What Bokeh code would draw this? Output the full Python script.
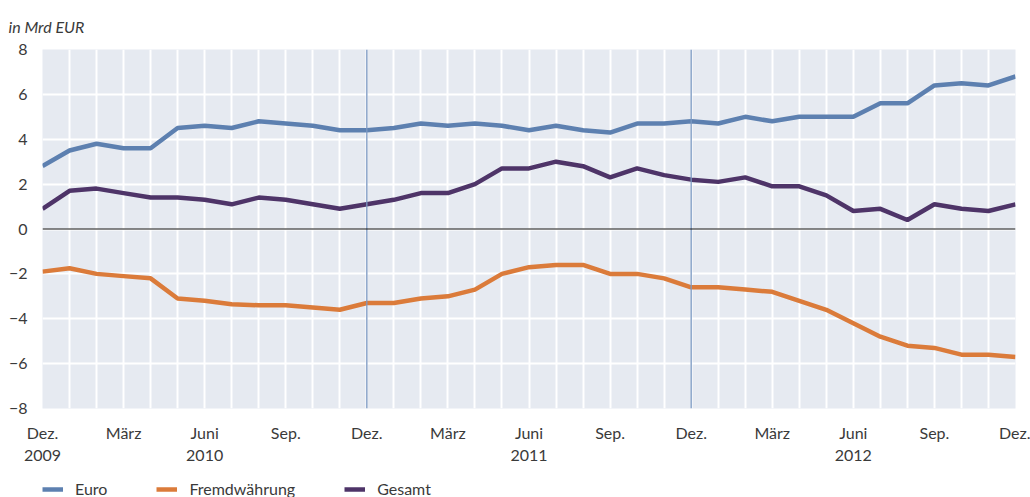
from bokeh.plotting import figure
from bokeh.layouts import column
from bokeh.models import (Range1d, FixedTicker, Span, Legend, LegendItem, Title)
from bokeh.embed import file_html
from bokeh.resources import INLINE

months = list(range(37))  # Dez 2009 .. Dez 2012
euro = [2.8, 3.5, 3.8, 3.6, 3.6, 4.5, 4.6, 4.5, 4.8, 4.7, 4.6, 4.4,
        4.4, 4.5, 4.7, 4.6, 4.7, 4.6, 4.4, 4.6, 4.4, 4.3, 4.7, 4.7,
        4.8, 4.7, 5.0, 4.8, 5.0, 5.0, 5.0, 5.6, 5.6, 6.4, 6.5, 6.4, 6.8]
fremd = [-1.9, -1.75, -2.0, -2.1, -2.2, -3.1, -3.2, -3.35, -3.4, -3.4, -3.5, -3.6,
         -3.3, -3.3, -3.1, -3.0, -2.7, -2.0, -1.7, -1.6, -1.6, -2.0, -2.0, -2.2,
         -2.6, -2.6, -2.7, -2.8, -3.2, -3.6, -4.2, -4.8, -5.2, -5.3, -5.6, -5.6, -5.7]
gesamt = [0.9, 1.7, 1.8, 1.6, 1.4, 1.4, 1.3, 1.1, 1.4, 1.3, 1.1, 0.9,
          1.1, 1.3, 1.6, 1.6, 2.0, 2.7, 2.7, 3.0, 2.8, 2.3, 2.7, 2.4,
          2.2, 2.1, 2.3, 1.9, 1.9, 1.5, 0.8, 0.9, 0.4, 1.1, 0.9, 0.8, 1.1]

x_tick_pos = [0, 3, 6, 9, 12, 15, 18, 21, 24, 27, 30, 33, 36]
x_tick_labels = ["Dez.\n2009", "März", "Juni\n2010", "Sep.", "Dez.", "März", "Juni\n2011",
                 "Sep.", "Dez.", "März", "Juni\n2012", "Sep.", "Dez."]
y_ticks = [-8, -6, -4, -2, 0, 2, 4, 6, 8]
y_tick_labels = ["\u22128", "\u22126", "\u22124", "\u22122", "0", "2", "4", "6", "8"]
year_breaks = [12, 24]
series_names = ["Euro", "Fremdwährung", "Gesamt"]

FONT = "Lato"
TXT = "#3a3a3a"
C_EURO = "#5D80B0"
C_FREMD = "#DB7B3A"
C_GES = "#4E3468"
LW = 4.5

p = figure(width=1030, height=467, output_backend="svg", toolbar_location=None,
           x_range=Range1d(0, 36), y_range=Range1d(-8, 8),
           min_border_left=42, min_border_right=15, min_border_top=47, min_border_bottom=56)
p.outline_line_color = None
p.background_fill_color = "#E6EAF1"
p.border_fill_color = "white"

p.add_layout(Title(text="in Mrd EUR", align="left", offset=-34, standoff=28,
                   text_font=FONT, text_font_style="italic", text_font_size="16px",
                   text_color=TXT), "above")

# grids
p.xgrid.ticker = FixedTicker(ticks=months)
p.ygrid.ticker = FixedTicker(ticks=y_ticks)
for g in (p.xgrid, p.ygrid):
    g.grid_line_color = "white"
    g.grid_line_width = 2

# axes
p.xaxis.ticker = FixedTicker(ticks=x_tick_pos)
p.xaxis.major_label_overrides = {t: l for t, l in zip(x_tick_pos, x_tick_labels)}
p.yaxis.ticker = FixedTicker(ticks=y_ticks)
p.yaxis.major_label_overrides = {t: l for t, l in zip(y_ticks, y_tick_labels)}
for ax in (p.xaxis, p.yaxis):
    ax.axis_line_color = None
    ax.major_tick_line_color = None
    ax.minor_tick_line_color = None
    ax.major_label_text_font = FONT
    ax.major_label_text_font_size = "16px"
    ax.major_label_text_color = TXT
p.xaxis.major_label_standoff = 8
p.yaxis.major_label_standoff = 9

for xb in year_breaks:
    p.add_layout(Span(location=xb, dimension="height", line_color="#7A98C2", line_width=1.3))
p.add_layout(Span(location=0, dimension="width", line_color="#111111", line_width=1.2))

p.line(months, euro, line_color=C_EURO, line_width=LW)
p.line(months, fremd, line_color=C_FREMD, line_width=LW)
p.line(months, gesamt, line_color=C_GES, line_width=LW)

# legend strip below the chart (its ranges keep the series lines themselves out of view)
p2 = figure(width=1030, height=30, output_backend="svg", toolbar_location=None,
            x_range=Range1d(-100, -99), y_range=Range1d(-100, -99),
            x_axis_type=None, y_axis_type=None,
            min_border_left=42, min_border_right=0, min_border_top=12, min_border_bottom=0)
p2.outline_line_color = None
p2.grid.visible = False
l_euro = p2.line(months, euro, line_color=C_EURO, line_width=LW)
l_fremd = p2.line(months, fremd, line_color=C_FREMD, line_width=LW)
l_ges = p2.line(months, gesamt, line_color=C_GES, line_width=LW)
legend = Legend(items=[LegendItem(label=series_names[0], renderers=[l_euro]),
                       LegendItem(label=series_names[1], renderers=[l_fremd]),
                       LegendItem(label=series_names[2], renderers=[l_ges])],
                orientation="horizontal", location="top_left",
                glyph_width=21, glyph_height=16, label_height=16, label_standoff=12, spacing=49,
                padding=0, margin=0, border_line_color=None, background_fill_alpha=0,
                label_text_font=FONT, label_text_font_size="16px", label_text_color=TXT)
p2.add_layout(legend)

open("out.html", "w").write(file_html(column(p, p2, spacing=0), INLINE))
